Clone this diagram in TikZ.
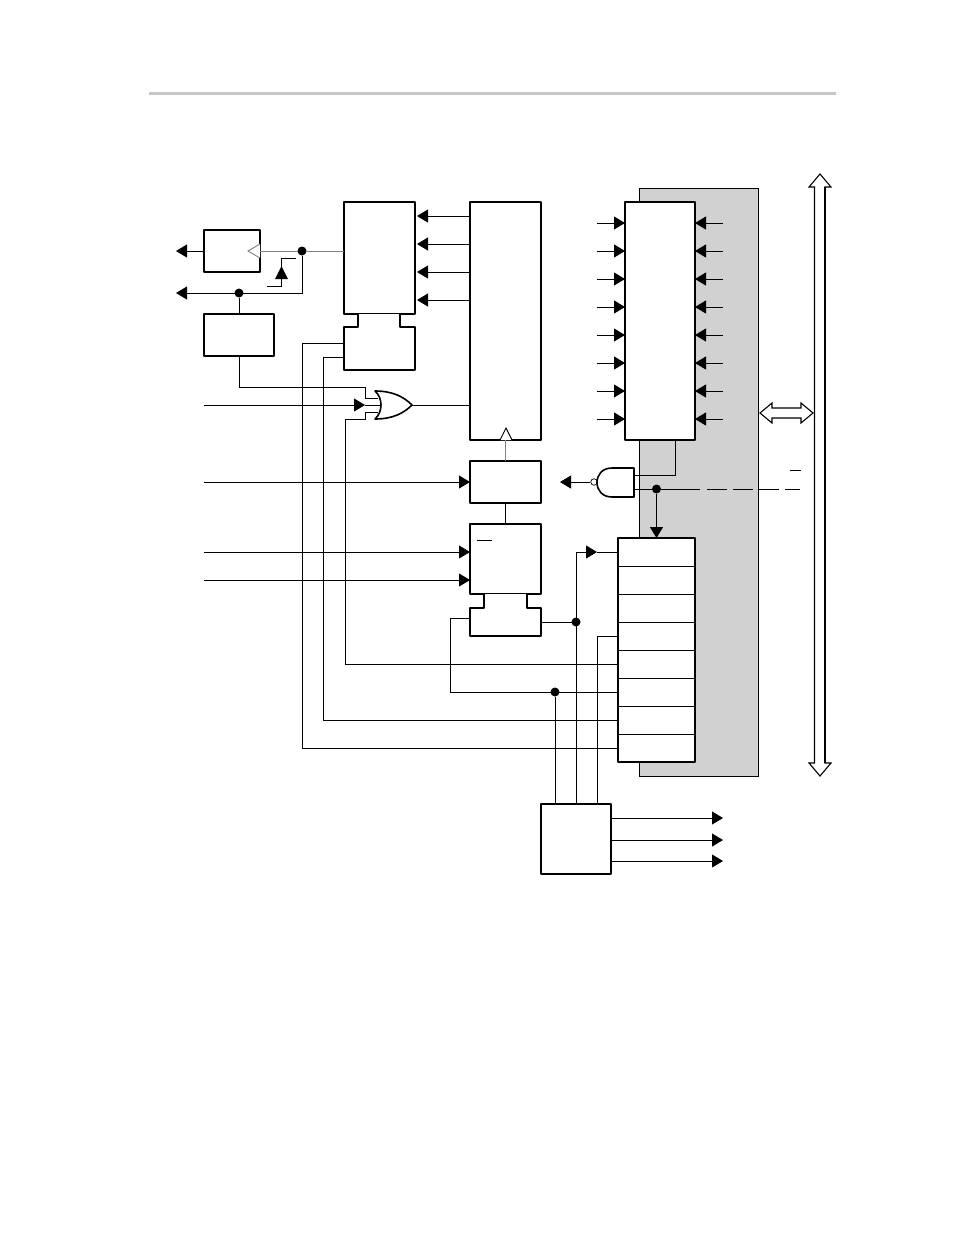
\documentclass[tikz,border=0pt]{standalone}
\usetikzlibrary{arrows.meta}
\definecolor{shadegray}{gray}{0.82}
\definecolor{rulegray}{gray}{0.78}
\tikzset{
  box/.style={draw, fill=white, line width=1.6pt, inner sep=0pt, outer sep=0pt, line join=round},
  port/.style={inner sep=0pt, outer sep=0pt},
  outline/.style={line width=1.6pt, line join=round, fill=white},
  wire/.style={line width=0.9pt},
  dot/.style={circle, fill=black, inner sep=0pt, outer sep=0pt, minimum size=9pt},
  sig/.style={wire, -{Triangle[length=11pt,width=13pt]}},
  bigarrow/.style={draw, fill=white, line width=1.1pt, line join=miter}
}
\begin{document}
\begin{tikzpicture}[x=1pt,y=-1pt]
  \useasboundingbox (0,0) rectangle (954,1235);
  \draw[rulegray, line width=3pt] (149,93) -- (836,93);

  % shaded area behind the registers
  \node[draw, fill=shadegray, line width=0.8pt, inner sep=0pt, minimum width=119pt, minimum height=588pt] (shade) at (698.5,482) {};

  % blocks
  \node[box, minimum width=56pt, minimum height=42pt] (ff) at (232,251) {};
  \node[box, minimum width=70pt, minimum height=42pt] (ctl) at (239,335) {};
  \node[box, line width=2pt, minimum width=71pt, minimum height=112pt] (rega) at (379.5,258) {};
  \node[port, minimum width=71pt, minimum height=43pt] (aport) at (379.5,348.5) {};
  \node[box, line width=2pt, minimum width=71pt, minimum height=238pt] (tall) at (505.5,321) {};
  \node[box, minimum width=71pt, minimum height=42pt] (mid) at (505.5,482) {};
  \node[box, minimum width=71pt, minimum height=70pt] (low) at (505.5,559) {};
  \node[port, minimum width=71pt, minimum height=28pt] (lport) at (505.5,622) {};
  \node[box, line width=2pt, minimum width=70pt, minimum height=238pt] (regb) at (660,321) {};
  \node[box, line width=2pt, minimum width=77pt, minimum height=224pt] (stack) at (656.5,650) {};
  \node[box, line width=2pt, minimum width=70pt, minimum height=70pt] (dec) at (576,839) {};

  % ports hang under their blocks
  \draw[outline] (358,314) -- (358,327) -- (344,327) -- (344,370) -- (415,370) -- (415,327) -- (400,327) -- (400,314);
  \draw[outline] (484,594) -- (484,608) -- (470,608) -- (470,636) -- (541,636) -- (541,608) -- (527,608) -- (527,594);

  % cells of the stack
  \foreach \y in {566,594,...,734}
    \draw[wire] (stack.west |- 0,\y) -- (stack.east |- 0,\y);

  % arrows from tall block into rega
  \foreach \y in {216,244,272,300}
    \draw[sig] (tall.west |- 0,\y) -- (417,\y);

  % pins on both sides of regb
  \foreach \y in {223,251,...,419} {
    \draw[sig] (597,\y) -- (regb.west |- 0,\y);
    \draw[sig] (723,\y) -- (regb.east |- 0,\y);
  }

  % clock line and its branch
  \node[dot] (ckdot) at (302,251) {};
  \node[dot] (outdot) at (239,293) {};
  \draw[gray, wire] (ff.east) -- (ckdot) -- (rega.west |- ckdot);
  \draw[gray, wire, fill=white] (260,244) -- (248,251) -- (260,258);
  \draw[sig] (ff.west) -- (176,251);
  \draw[sig] (ckdot) -- (302,293) -- (176,293);
  \draw[wire] (outdot) -- (ctl.north -| outdot);

  % small diode symbol
  \draw[wire] (295.5,258.5) -- (281.5,258.5) -- (281.5,286) -- (267,286);
  \fill (281.5,266) -- (288,279) -- (275,279) -- cycle;

  % or gate
  \coordinate (orup) at (378,398);
  \coordinate (ormid) at (380,405);
  \coordinate (orlow) at (378,412);
  \coordinate (orout) at (412,405);
  \draw[wire] (ctl.south -| outdot) -- (239,387) -- (365,387) -- (365,398) -- (orup);
  \draw[sig] (204,405) -- (365,405);
  \draw[wire] (365,405) -- (ormid);
  \draw[wire] (stack.west |- 0,664) -- (345,664) -- (345,419) -- (365,419) -- (365,412) -- (orlow);
  \draw[outline, fill=white] (375,391) .. controls (383,398) and (383,412) .. (375,419)
    .. controls (393,419) and (404,413) .. (orout)
    .. controls (404,397) and (393,391) .. cycle;
  \draw[wire] (orout) -- (tall.west |- orout);

  % wires from the stack to aport
  \draw[wire] (aport.west |- 0,343) -- (302.5,343) -- (302.5,748) -- (stack.west |- 0,748);
  \draw[wire] (aport.west |- 0,357) -- (323.5,357) -- (323.5,720) -- (stack.west |- 0,720);

  % clock input of the tall block
  \draw[gray, wire] (mid.north) -- (tall.south);
  \draw[wire, fill=white] (500,440) -- (506,428) -- (512,440);
  \draw[wire] (mid.south) -- (low.north);

  % plain inputs
  \draw[sig] (204,482) -- (mid.west);
  \draw[sig] (204,552) -- (low.west |- 0,552);
  \draw[sig] (204,580) -- (low.west |- 0,580);
  \draw[wire] (477,540) -- (492,540);

  % nand gate with its two inputs
  \node[draw, fill=white, circle, inner sep=0pt, line width=0.7pt, minimum size=6.5pt] (bubble) at (594,482) {};
  \node[dot] (endot) at (656.5,489) {};
  \draw[sig] (bubble) -- (560,482);
  \draw[wire] (634,475) -- (675,475) -- (regb.south -| 675,0);
  \draw[wire] (634,489) -- (endot) -- (700,489);
  \draw[wire, dash pattern=on 20pt off 6pt] (707,489) -- (800,489);
  \draw[wire] (790,470) -- (801,470);
  \draw[sig] (endot) -- (stack.north -| endot);
  \draw[outline] (634,468) -- (612,468) .. controls (602,468) and (597,475) .. (597,482.5)
    .. controls (597,490) and (602,497) .. (612,497) -- (634,497) -- cycle;

  % lower port and the decoder lines
  \node[dot] (pdot) at (576,622) {};
  \node[dot] (qdot) at (555,692) {};
  \draw[wire] (lport.east) -- (pdot);
  \draw[sig] (dec.north -| pdot) -- (576,552) -- (597,552);
  \draw[wire] (597,552) -- (stack.west |- 0,552);
  \draw[wire] (lport.west |- 0,618) -- (450,618) -- (450,692) -- (stack.west |- 0,692);
  \draw[wire] (qdot) -- (dec.north -| qdot);
  \draw[wire] (stack.west |- 0,636) -- (597,636) -- (dec.north -| 597,0);

  % decoder outputs
  \foreach \y in {818,840,861}
    \draw[sig] (dec.east |- 0,\y) -- (723,\y);

  % bus arrows
  \draw[bigarrow] (820,174) -- (831,187) -- (825,187) -- (825,763) -- (831,763) -- (820,776)
    -- (809,763) -- (814.5,763) -- (814.5,187) -- (809,187) -- cycle;
  \draw[line width=2pt] (825,187) -- (825,763);
  \draw[bigarrow] (760,413) -- (772,403) -- (772,408) -- (801,408) -- (801,403) -- (813,413)
    -- (801,423) -- (801,418) -- (772,418) -- (772,423) -- cycle;
\end{tikzpicture}
\end{document}
